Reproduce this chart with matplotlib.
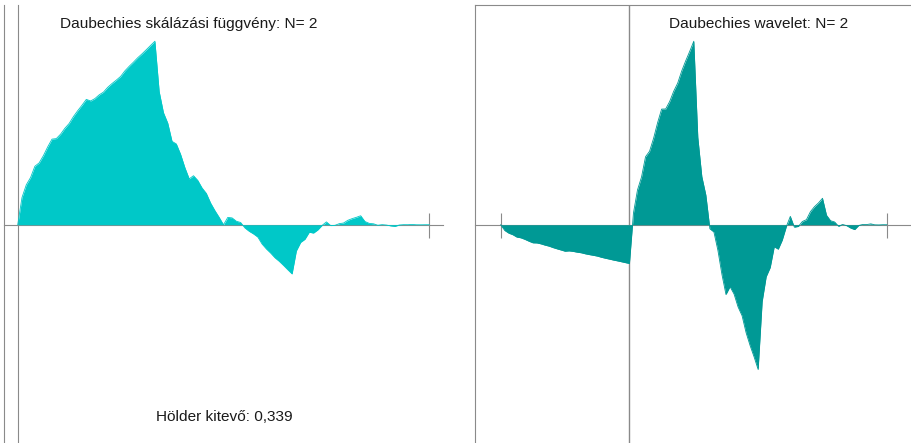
import numpy as np
import matplotlib.pyplot as plt

plt.rcParams['font.family'] = ['Liberation Sans', 'DejaVu Sans']

# D4 scaling function sampled every 1/32 on [0, 3]
phi_x = np.arange(97) / 32
phi_y = [0, 0.2031, 0.2973, 0.3517, 0.4353, 0.4605, 0.5149, 0.5800, 0.6373, 0.6412, 0.6742, 0.7180, 0.7539, 0.8054, 0.8492, 0.8900,
         0.9330, 0.9213, 0.9388, 0.9668, 0.9871, 1.0231, 1.0512, 1.0765, 1.1038, 1.1454, 1.1792, 1.2102, 1.2433, 1.2721, 1.3031, 1.3349,
         1.3660, 0.9911, 0.8340, 0.7563, 0.6205, 0.6013, 0.5237, 0.4248, 0.3415, 0.3649, 0.3301, 0.2738, 0.2333, 0.1615, 0.1052, 0.0547,
         0, 0.0547, 0.0510, 0.0261, 0.0168, -0.0239, -0.0489, -0.0682, -0.0915, -0.1435, -0.1799, -0.2106, -0.2456, -0.2720, -0.3027, -0.3350,
         -0.3660, -0.1942, -0.1313, -0.1080, -0.0558, -0.0618, -0.0386, -0.0048, 0.0212, -0.0061, -0.0043, 0.0082, 0.0128, 0.0331, 0.0456, 0.0553,
         0.0670, 0.0240, 0.0102, 0.0071, -0.0039, 0.0008, -0.0023, -0.0083, -0.0123, -0.0019, 0.0007, 0.0004, 0.0023, -0.0001, -0.0004, 0.0001,
         0]

# D4 wavelet sampled every 1/32 on [-1, 2]
psi_x = np.arange(-32, 65) / 32
psi_y = [0, -0.0544, -0.0797, -0.0942, -0.1166, -0.1234, -0.1380, -0.1554, -0.1707, -0.1718, -0.1806, -0.1924, -0.2020, -0.2158, -0.2275, -0.2385,
         -0.2500, -0.2468, -0.2516, -0.2590, -0.2645, -0.2741, -0.2817, -0.2885, -0.2958, -0.3069, -0.3160, -0.3243, -0.3332, -0.3409, -0.3492, -0.3577,
         -0.3660, 0.1113, 0.3285, 0.4502, 0.6417, 0.6938, 0.8156, 0.9630, 1.0914, 1.0925, 1.1631, 1.2595, 1.3371, 1.4519, 1.5483, 1.6377,
         1.7320, 0.8251, 0.4545, 0.2800, -0.0380, -0.0686, -0.2430, -0.4700, -0.6584, -0.5841, -0.6531, -0.7751, -0.8582, -1.0184, -1.1404, -1.2480,
         -1.3660, -0.7249, -0.4898, -0.4034, -0.2081, -0.2306, -0.1442, -0.0180, 0.0793, -0.0227, -0.0161, 0.0307, 0.0479, 0.1237, 0.1704, 0.2062,
         0.2500, 0.0897, 0.0381, 0.0264, -0.0145, 0.0029, -0.0087, -0.0311, -0.0458, -0.0070, 0.0027, 0.0016, 0.0084, -0.0005, -0.0016, 0.0003,
         0]

N = 2
holder = '0,339'

line_col = '#8a8a8a'
txt_col = '#1a1a1a'
fs = 11.1

fig = plt.figure(figsize=(9.11, 4.43), dpi=100)

# left: scaling function
ax1 = fig.add_axes([4 / 911, -2 / 443, 439 / 911, 440.5 / 443])
ax1.fill_between(phi_x, 0, phi_y, color='#00c8c8', lw=0, zorder=3)
ax1.plot(phi_x, phi_y, color='#00c8c8', lw=0.6, zorder=3)
ax1.set_xlim(-0.1, 3.1)
ax1.set_ylim(-1.2 * max(phi_y), 1.2 * max(phi_y))
for s in ['top', 'right', 'left', 'bottom']:
    ax1.spines[s].set_color(line_col)
ax1.spines['top'].set_visible(False)
ax1.spines['bottom'].set_position(('data', 0))
ax1.spines['left'].set_position(('data', 0))
ax1.spines['right'].set_position(('axes', 0))
ax1.set_xticks([3])
ax1.set_yticks([])
ax1.tick_params(axis='x', direction='inout', length=18, color=line_col, labelbottom=False)
ax1.text(0.421, 0.9466, 'Daubechies skálázási függvény: N= %d' % N, transform=ax1.transAxes,
         ha='center', va='baseline', fontsize=fs, color=txt_col)
ax1.text(0.501, 0.0545, 'Hölder kitevő: ' + holder, transform=ax1.transAxes,
         ha='center', va='baseline', fontsize=fs, color=txt_col)

# right: wavelet
ax2 = fig.add_axes([475 / 911, -2 / 443, 437.6 / 911, 440.5 / 443])
ax2.fill_between(psi_x, 0, psi_y, color='#009995', lw=0, zorder=3)
ax2.plot(psi_x, psi_y, color='#009995', lw=0.6, zorder=3)
ax2.axvline(0, color=line_col, lw=1, zorder=2)
ax2.set_xlim(-1.2, 2.2)
ax2.set_ylim(-1.2 * max(psi_y), 1.2 * max(psi_y))
for s in ['top', 'right', 'left', 'bottom']:
    ax2.spines[s].set_color(line_col)
ax2.spines['right'].set_visible(False)
ax2.spines['bottom'].set_position(('data', 0))
ax2.set_xticks([-1, 2])
ax2.set_yticks([])
ax2.tick_params(axis='x', direction='inout', length=18, color=line_col, labelbottom=False)
ax2.text(0.649, 0.9466, 'Daubechies wavelet: N= %d' % N, transform=ax2.transAxes,
         ha='center', va='baseline', fontsize=fs, color=txt_col)

plt.savefig('out.png', dpi=100)
